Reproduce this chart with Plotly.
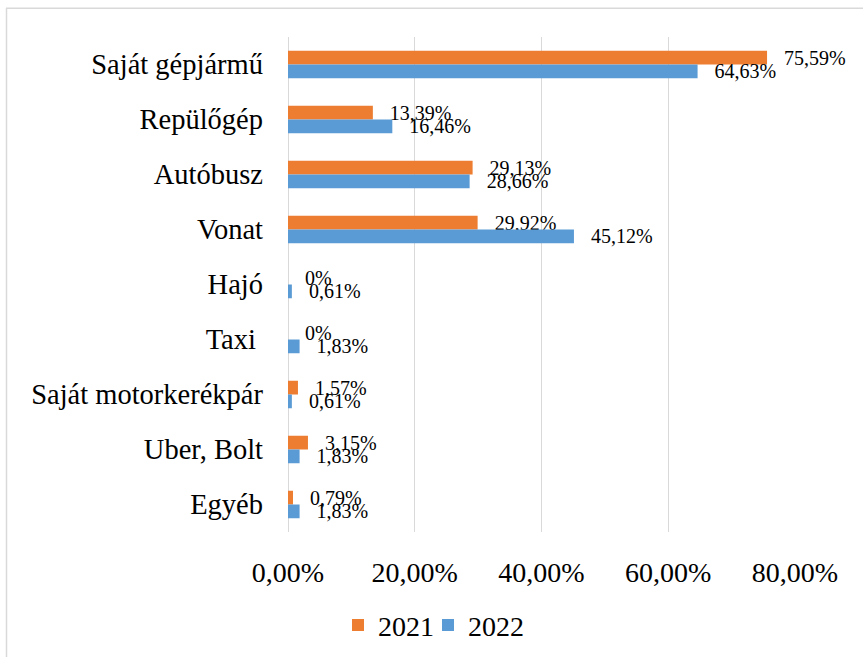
import plotly.graph_objects as go

categories = ["Saját gépjármű", "Repülőgép", "Autóbusz", "Vonat", "Hajó", "Taxi ",
              "Saját motorkerékpár", "Uber, Bolt", "Egyéb"]
values_2021 = [75.59, 13.39, 29.13, 29.92, 0, 0, 1.57, 3.15, 0.79]
values_2022 = [64.63, 16.46, 28.66, 45.12, 0.61, 1.83, 0.61, 1.83, 1.83]
tick_vals = [0, 20, 40, 60, 80]
tick_text = ["0,00%", "20,00%", "40,00%", "60,00%", "80,00%"]

W, H = 863, 662
L, R, T, B = 288, 795, 37, 536
FONT = "Liberation Serif"


def fmt(v):
    if v == 0:
        return "\u2002\u2009" + "0%"
    return "\u2002\u2009" + f"{v:.2f}".replace(".", ",") + "%"


fig = go.Figure()
for name, vals, col, leg in [("2021", values_2021, "#ED7D31", "legend"),
                             ("2022", values_2022, "#5B9BD5", "legend2")]:
    fig.add_trace(go.Bar(
        name=name, y=categories, x=vals, orientation="h",
        marker=dict(color=col, line=dict(width=0)),
        text=[fmt(v) for v in vals], textposition="outside",
        textfont=dict(family=FONT, size=20, color="#000000"),
        constraintext="none", cliponaxis=False, legend=leg,
    ))


def px(xp):
    return (xp - L) / (R - L)


def py(yp):
    return (B - yp) / (B - T)


leg_common = dict(orientation="h", xanchor="left", y=py(630), yanchor="middle",
                  font=dict(family=FONT, size=28), itemwidth=30,
                  bgcolor="rgba(0,0,0,0)", borderwidth=0)

fig.update_layout(
    width=W, height=H,
    margin=dict(l=L, r=W - R, t=T, b=H - B, pad=0),
    barmode="group", bargap=0.5, bargroupgap=0,
    paper_bgcolor="white", plot_bgcolor="white",
    font=dict(family=FONT, size=28, color="#000000"),
    showlegend=True,
    legend=dict(x=px(338), **leg_common),
    legend2=dict(x=px(428), **leg_common),
    xaxis=dict(range=[0, 80], tickvals=tick_vals, ticktext=tick_text,
               showgrid=True, gridcolor="#D9D9D9", gridwidth=1.3,
               zeroline=True, zerolinecolor="#D9D9D9", zerolinewidth=1.3,
               showline=False, ticks="", ticklabelstandoff=21,
               tickfont=dict(family=FONT, size=28), fixedrange=True),
    yaxis=dict(autorange="reversed", showgrid=False, showline=False, ticks="",
               ticklabelstandoff=24, tickfont=dict(family=FONT, size=28.5), fixedrange=True),
    shapes=[
        dict(type="line", xref="paper", yref="paper", x0=px(6), x1=px(863), y0=py(8), y1=py(8),
             line=dict(color="#D9D9D9", width=1.5)),
        dict(type="line", xref="paper", yref="paper", x0=px(6.5), x1=px(6.5), y0=py(8), y1=py(662),
             line=dict(color="#D9D9D9", width=1.5)),
    ],
)

fig.write_html("out.html", config={"displayModeBar": False},
               post_script="document.body.style.margin='0';")
